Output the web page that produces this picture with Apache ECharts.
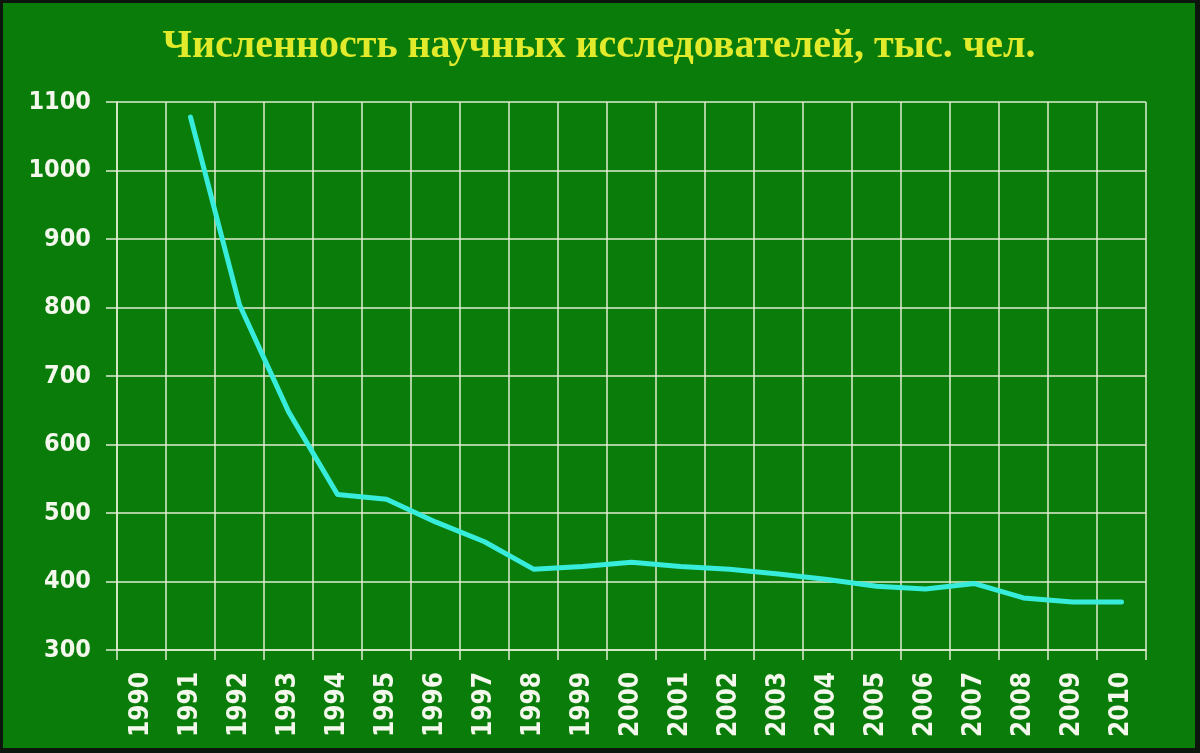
<!DOCTYPE html>
<html>
<head>
<meta charset="utf-8">
<script src="https://cdn.jsdelivr.net/npm/echarts@6/dist/echarts.min.js"></script>
<style>
html,body{margin:0;padding:0;width:1200px;height:753px;background:#0d160d;overflow:hidden;}
#chart{position:absolute;left:3px;top:3px;width:1192px;height:745px;}
</style>
</head>
<body>
<div id="chart"></div>
<script>
const titleText = 'Численность научных исследователей, тыс. чел.';
const years = ['1990','1991','1992','1993','1994','1995','1996','1997','1998','1999','2000','2001','2002','2003','2004','2005','2006','2007','2008','2009','2010'];
const researchers = [null,1078,804,648,527,520,487,458,418,422,428,422,418,411,403,393,389,397,376,370,370];
const yMin = 300, yMax = 1100, yStep = 100;

const gridColor = '#e2ecd2';
const labelFont = '"DejaVu Sans Condensed","DejaVu Sans",sans-serif';

const chart = echarts.init(document.getElementById('chart'));
chart.setOption({
  backgroundColor: '#0a7c0a',
  animation: false,
  title: {
    text: titleText,
    left: 596, top: 24, textAlign: 'center', padding: 0,
    textStyle: {color: '#e2ea2c', fontFamily: '"Liberation Serif","Times New Roman",serif', fontWeight: 'bold', fontSize: 40}
  },
  grid: {left: 114, top: 99, right: 49, bottom: 98, containLabel: false},
  xAxis: {
    type: 'category',
    data: years,
    boundaryGap: true,
    axisLine: {show: true, lineStyle: {color: gridColor, width: 1.5}},
    axisTick: {show: true, alignWithLabel: false, length: 10, lineStyle: {color: gridColor, width: 1.5}},
    splitLine: {show: true, lineStyle: {color: gridColor, width: 1.5}},
    axisLabel: {rotate: 90, margin: 22, color: '#f4f8ec', fontFamily: labelFont, fontWeight: 'bold', fontSize: 26, interval: 0}
  },
  yAxis: {
    type: 'value',
    min: yMin, max: yMax, interval: yStep,
    axisLine: {show: true, lineStyle: {color: gridColor, width: 1.5}},
    axisTick: {show: true, length: 11, lineStyle: {color: gridColor, width: 1.5}},
    splitLine: {show: true, lineStyle: {color: gridColor, width: 1.5}},
    axisLabel: {margin: 26, color: '#f4f8ec', fontFamily: labelFont, fontWeight: 'bold', fontSize: 25,
      formatter: function (v) { return String(v); }}
  },
  series: [{
    type: 'line',
    data: researchers,
    showSymbol: false,
    symbol: 'none',
    connectNulls: false,
    lineStyle: {color: '#38ecdc', width: 5, cap: 'round', join: 'round'}
  }]
});
</script>
</body>
</html>
